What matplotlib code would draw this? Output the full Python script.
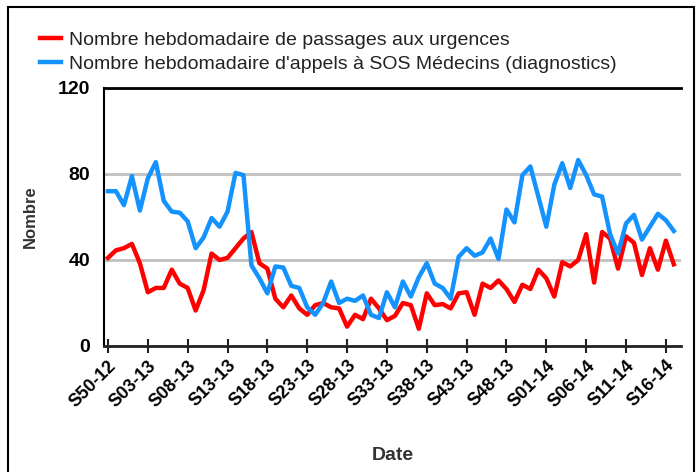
import matplotlib.pyplot as plt
from matplotlib.patches import Rectangle
from matplotlib.lines import Line2D

plt.rcParams['font.family'] = ['Liberation Sans', 'DejaVu Sans']

# Donnees hebdomadaires (S50-12 a S17-14)
urgences = [41, 44.5, 45.5, 47.5, 38.5, 25, 27, 27, 35.5, 29,
            27, 16.5, 26, 43, 40, 41, 45.5, 50, 53, 38.5,
            36, 22, 18, 23.5, 17.5, 14.5, 19, 20, 18, 17.5,
            9, 14.5, 12.5, 22, 17.5, 12, 14, 20, 19, 8,
            24.5, 19, 19.5, 17.5, 24.5, 25, 14.5, 29, 27, 30.5,
            26.5, 20.5, 28.5, 26.5, 35.5, 31.5, 23, 39, 37, 40,
            52, 29.5, 53, 50, 36, 51, 48, 33, 45.5, 35.5,
            49, 38]
sos = [72, 72, 65.5, 79, 63, 78, 85.5, 67.5, 62.5, 62,
       58, 45.5, 50.5, 59.5, 55.5, 62.5, 80.5, 79.5, 37.5, 31.5,
       24.5, 37, 36.5, 28, 27, 18, 14.5, 20, 30, 20,
       22, 21, 23.5, 14.5, 13, 25, 18, 30, 23, 32,
       38.5, 29, 27, 22, 41.5, 45.5, 42, 43.5, 50, 40.5,
       63.5, 57.5, 79.5, 83.5, 69.5, 55.5, 75, 85, 73.5, 86.5,
       79.5, 70.5, 69.5, 52, 43, 57, 61, 49.5, 55.5, 61.5,
       58.5, 53.5]
tick_labels = ["S50-12", "S03-13", "S08-13", "S13-13", "S18-13", "S23-13",
               "S28-13", "S33-13", "S38-13", "S43-13", "S48-13", "S01-14",
               "S06-14", "S11-14", "S16-14"]
noms = ["Nombre hebdomadaire de passages aux urgences",
        "Nombre hebdomadaire d'appels à SOS Médecins (diagnostics)"]

fig = plt.figure(figsize=(7, 4.72), dpi=100)
ax = fig.add_axes([104 / 700, 1 - 346 / 472, 577 / 700, 258 / 472])

x = range(len(urgences))
ax.plot(x, urgences, color='#ff0000', lw=3.2)
ax.plot(x, sos, color='#1493ff', lw=3.2)

ax.set_xlim(-0.5, 71.9)
ax.set_ylim(0, 120)
ax.set_yticks([0, 40, 80, 120])
ax.set_yticklabels(['0', '40', '80', '120'], fontsize=14, fontweight='bold')
ax.set_xticks(range(0, 71, 5))
ax.set_xticklabels(tick_labels, rotation=45, ha='right', va='top',
                   rotation_mode='anchor', fontsize=13, fontweight='bold')
ax.tick_params(axis='y', length=0, pad=10)
ax.tick_params(axis='x', direction='inout', length=10, width=1.5,
               color='#222222', pad=3)
ax.yaxis.grid(True, color='#c0c0c0', lw=2)
ax.set_axisbelow(True)

ax.spines['right'].set_visible(False)
ax.spines['top'].set_linewidth(2)
ax.spines['left'].set_linewidth(1.5)
ax.spines['bottom'].set_linewidth(2)
ax.spines['bottom'].set_color('#222222')

ax.set_xlabel('Date', fontsize=14, fontweight='bold', color='#333333', labelpad=26)
ax.set_ylabel('Nombre', fontsize=12, fontweight='bold', color='#333333', labelpad=14)

handles = [Line2D([], [], color='#ff0000', lw=3.2),
           Line2D([], [], color='#1493ff', lw=3.2)]
fig.legend(handles, noms, loc='upper left', bbox_to_anchor=(22 / 700, 1 - 14 / 472),
           frameon=False, fontsize=14, handlelength=1.1, handletextpad=0.4,
           labelspacing=0.3, labelcolor='#222222')

# cadre
fig.patches.append(Rectangle((8 / 700, -0.1), 686 / 700, 1.1 - 7 / 472,
                             transform=fig.transFigure, fill=False,
                             edgecolor='black', lw=1.5))

fig.savefig('out.png', dpi=100)
